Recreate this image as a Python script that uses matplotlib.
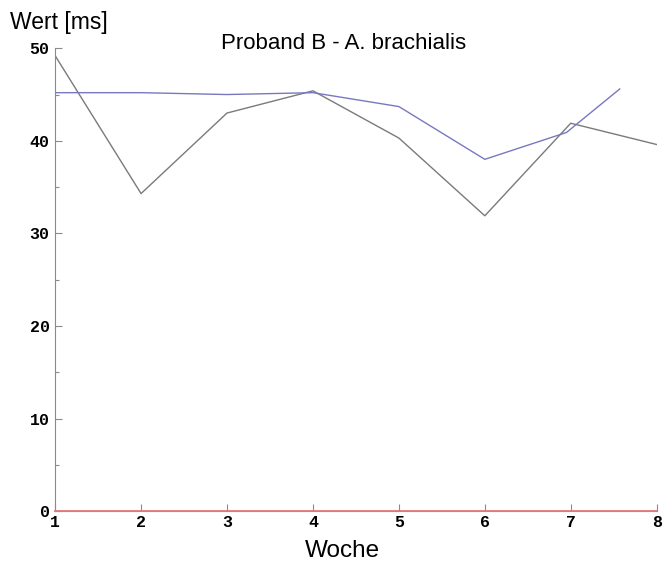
import matplotlib
matplotlib.use("Agg")
import matplotlib.pyplot as plt
from matplotlib.ticker import MultipleLocator

weeks = [1, 2, 3, 4, 5, 6, 7, 8]
gray_values = [49.2, 34.3, 43.0, 45.4, 40.3, 31.9, 41.9, 39.6]
blue_weeks = [1, 2, 3, 4, 5, 6, 6.95, 7.57]
blue_values = [45.2, 45.2, 45.0, 45.2, 43.7, 38.0, 40.9, 45.6]
baseline_weeks = [1, 8]
baseline_values = [0, 0]

x_ticks = [1, 2, 3, 4, 5, 6, 7, 8]
y_ticks = [0, 10, 20, 30, 40, 50]

fig = plt.figure(figsize=(6.64, 5.61), dpi=100)
ax = fig.add_axes([0.083, 0.089, 0.906, 0.825])

ax.plot(weeks, gray_values, color="#7a7a7a", lw=1.0)
ax.plot(blue_weeks, blue_values, color="#7878c0", lw=1.0)
ax.plot(baseline_weeks, baseline_values, color="#e07a7a", lw=1.3, clip_on=False, zorder=5)

ax.set_xlim(1, 8)
ax.set_ylim(0, 50)
ax.set_xticks(x_ticks)
ax.set_yticks(y_ticks)
ax.yaxis.set_minor_locator(MultipleLocator(5))

for side in ("top", "right"):
    ax.spines[side].set_visible(False)
ax.spines["left"].set_color("#8a8a8a")
ax.spines["bottom"].set_color("#8a8a8a")

ax.tick_params(axis="both", which="major", direction="in", length=5, color="#8a8a8a", width=0.8)
ax.tick_params(axis="y", which="minor", direction="in", length=3, color="#8a8a8a", width=0.8)
ax.tick_params(axis="x", pad=3)
ax.tick_params(axis="y", pad=4)
for lbl in ax.get_xticklabels() + ax.get_yticklabels():
    lbl.set_fontfamily("Liberation Mono")
    lbl.set_fontweight("bold")
    lbl.set_fontsize(12)

fig.text(0.518, 0.912, "Proband B - A. brachialis", ha="center", va="baseline",
         fontsize=16, family="Liberation Sans")
fig.text(0.015, 0.948, "Wert [ms]", ha="left", va="baseline",
         fontsize=16.5, family="Liberation Sans")
fig.text(0.515, 0.008, "Woche", ha="center", va="baseline",
         fontsize=17.5, family="Liberation Sans")

fig.savefig("out.png", dpi=100)
